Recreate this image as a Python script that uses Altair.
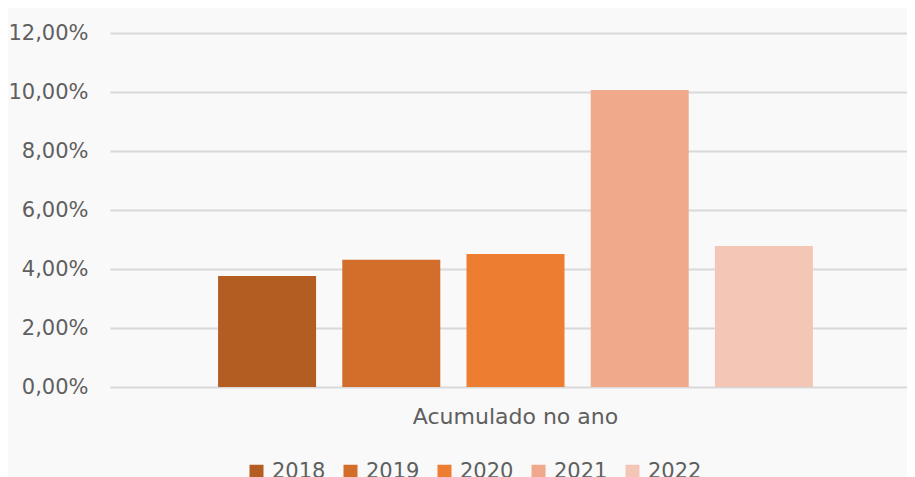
import altair as alt
import pandas as pd

categories = ["Acumulado no ano"] * 5
years = ["2018", "2019", "2020", "2021", "2022"]
values = [0.0376, 0.0431, 0.0451, 0.1007, 0.0478]
colors = ["#B35D22", "#D36D2A", "#ED7D31", "#F0A98A", "#F4C6B6"]
y_ticks = [0, 0.02, 0.04, 0.06, 0.08, 0.10, 0.12]

df = pd.DataFrame({"cat": categories, "year": years, "value": values})

FONT = "DejaVu Sans"
TXT = "#5f5f5f"

chart = alt.Chart(df).mark_bar().encode(
    x=alt.X("cat:N",
            scale=alt.Scale(range=[0, 811], paddingInner=0, paddingOuter=0),
            axis=alt.Axis(title=None, labelAngle=0, ticks=False, domain=False,
                          labelFontSize=22, labelColor=TXT, labelFont=FONT,
                          labelPadding=19, labelLimit=0, grid=False)),
    xOffset=alt.XOffset("year:N",
                        scale=alt.Scale(paddingInner=0.211, paddingOuter=0.87)),
    y=alt.Y("value:Q",
            scale=alt.Scale(domain=[0, 0.12], nice=False),
            axis=alt.Axis(title=None, values=y_ticks, ticks=False, domain=False,
                          labelExpr="replace(format(datum.value, '.2%'), '.', ',')",
                          labelFontSize=21, labelColor=TXT, labelFont=FONT,
                          labelPadding=22, grid=True, gridColor="#d9d9d9",
                          gridWidth=2)),
    color=alt.Color("year:N",
                    scale=alt.Scale(domain=years, range=colors),
                    legend=alt.Legend(title=None, orient="none", direction="horizontal",
                                      legendX=136, legendY=428,
                                      symbolType="square", symbolSize=196,
                                      symbolStrokeWidth=0, labelFontSize=21,
                                      labelColor=TXT, labelFont=FONT,
                                      labelOffset=5, columnPadding=14)),
).properties(
    width=797,
    height=354,
    background="#f9f9f9",
    autosize=alt.AutoSizeParams(type="none"),
    padding={"left": 102, "top": 25, "right": 0, "bottom": 90},
).configure_view(stroke=None)

chart.save("out.html", embed_options={"renderer": "svg", "actions": False})
